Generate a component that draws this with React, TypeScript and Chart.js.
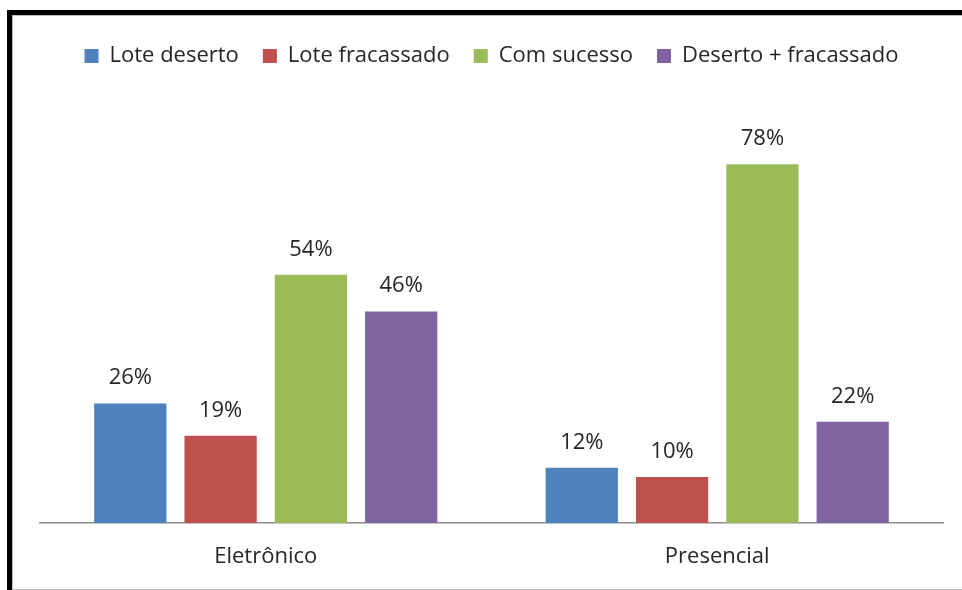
import { useEffect, useRef } from "react";
import { Chart, registerables } from "chart.js";

Chart.register(...registerables);

const categories = ["Eletrônico", "Presencial"];
const seriesNames = ["Lote deserto", "Lote fracassado", "Com sucesso", "Deserto + fracassado"];
const loteDeserto = [26, 12];
const loteFracassado = [19, 10];
const comSucesso = [54, 78];
const desertoFracassado = [46, 22];
const seriesColors = ["#4F81BD", "#C0504D", "#9BBB59", "#8064A2"];
const yMax = 97;

const FONT = "'Open Sans', 'Noto Sans', sans-serif";
const TEXT = "#262626";
const FS = 22;

const valueLabels = {
  id: "valueLabels",
  afterDatasetsDraw(chart: any) {
    const ctx = chart.ctx;
    ctx.save();
    ctx.font = `${FS}px ${FONT}`;
    ctx.fillStyle = TEXT;
    ctx.textAlign = "center";
    ctx.textBaseline = "alphabetic";
    chart.data.datasets.forEach((ds: any, di: number) => {
      const meta = chart.getDatasetMeta(di);
      meta.data.forEach((el: any, i: number) => {
        ctx.fillText(`${ds.data[i]}%`, el.x, el.y - 19);
      });
    });
    ctx.restore();
  },
};

export default function App() {
  const ref = useRef<HTMLCanvasElement>(null);
  useEffect(() => {
    if (!ref.current) return;
    const allSeries = [loteDeserto, loteFracassado, comSucesso, desertoFracassado];
    const chart = new Chart(ref.current, {
      type: "bar",
      data: {
        labels: categories,
        datasets: allSeries.map((d, i) => ({
          label: seriesNames[i],
          data: d,
          backgroundColor: seriesColors[i],
          barPercentage: 0.8,
          categoryPercentage: 0.8,
        })),
      },
      options: {
        animation: false,
        responsive: false,
        maintainAspectRatio: false,
        layout: { padding: { left: 40, right: 19, top: 21, bottom: 0 } },
        plugins: {
          tooltip: { enabled: false },
          legend: {
            position: "top",
            labels: {
              boxWidth: 14,
              boxHeight: 14,
              padding: 24,
              color: TEXT,
              font: { size: FS, family: FONT },
            },
          },
        },
        scales: {
          x: {
            afterFit: (scale: any) => {
              scale.height = 590 - 523;
            },
            grid: { display: false, drawTicks: false },
            border: { display: true, color: "#8c8c8c", width: 1.5 },
            ticks: { color: TEXT, font: { size: FS, family: FONT }, padding: 21 },
          },
          y: {
            display: false,
            min: 0,
            max: yMax,
          },
        },
      },
      plugins: [valueLabels],
    });
    return () => chart.destroy();
  }, []);

  return (
    <div style={{ position: "absolute", left: 0, top: 0, width: 962, height: 590, background: "#fff", overflow: "hidden" }}>
      <div
        style={{
          position: "absolute",
          left: 7,
          top: 10,
          width: 962,
          height: 600,
          borderTop: "5px solid #000",
          borderLeft: "5px solid #000",
          boxSizing: "border-box",
        }}
      />
      <div
        style={{
          position: "absolute",
          left: 12,
          top: 15,
          width: 962,
          height: 575,
          borderTop: "1px solid #bfbfbf",
          borderLeft: "1px solid #bfbfbf",
          borderBottom: "1px solid #bfbfbf",
          boxSizing: "border-box",
        }}
      />
      <canvas ref={ref} width={962} height={590} style={{ position: "absolute", left: 0, top: 0 }} />
    </div>
  );
}
